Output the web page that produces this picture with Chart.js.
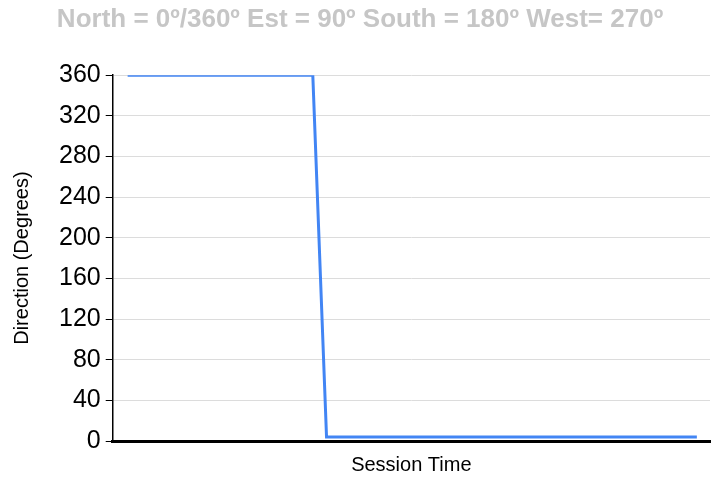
<!DOCTYPE html>
<html>
<head>
<meta charset="utf-8">
<script src="https://cdn.jsdelivr.net/npm/chart.js@4"></script>
<style>
	body { margin: 0; background: #fff; }
</style>
</head>
<body>
<canvas id="myChart" width="721" height="480"></canvas>
<script>
// session time position (share of the session, 0-100) and wind direction in degrees
let sessionTime = [2.5, 33.5, 35.8, 97.8];
let direction = [360, 360, 4, 4];
let yTicks = [0, 40, 80, 120, 160, 200, 240, 280, 320, 360];

let points = [];
sessionTime.forEach( (t, i) => {
	points.push({ x: t, y: direction[i] });
});

const ctx = document.getElementById('myChart');

new Chart(ctx, {
	type: 'line',
	data: {
		datasets: [{
			data: points,
			borderColor: 'rgb(66,133,244)',
			borderWidth: 3,
			pointRadius: 0,
			tension: 0,
			fill: false
		}]
	},
	options: {
		responsive: false,
		devicePixelRatio: 1,
		animation: false,
		layout: { padding: { left: 10, right: 11, top: 0, bottom: 3 } },
		plugins: {
			legend: { display: false },
			tooltip: { enabled: false },
			title: {
				display: true,
				text: 'North = 0º/360º Est = 90º South = 180º West= 270º',
				color: '#c6c6c6',
				font: { family: 'Liberation Sans', size: 26, weight: 'bold' },
				padding: { top: 4, bottom: 40 }
			}
		},
		scales: {
			x: {
				type: 'linear',
				min: 0,
				max: 100,
				ticks: { display: false },
				grid: { display: false },
				border: { display: true, color: '#000', width: 3 },
				title: {
					display: true,
					text: 'Session Time',
					color: '#000',
					font: { family: 'Liberation Sans', size: 20 },
					padding: { top: 4, bottom: 0 }
				}
			},
			y: {
				min: 0,
				max: 360,
				afterBuildTicks: (axis) => {
					axis.ticks = yTicks.map( (v) => ({ value: v }) );
				},
				ticks: {
					color: '#000',
					font: { family: 'Liberation Sans', size: 25 },
					padding: 5
				},
				grid: {
					color: '#dcdcdc',
					lineWidth: 1,
					drawTicks: true,
					tickLength: 7,
					tickColor: '#000'
				},
				border: { display: true, color: '#000', width: 1.5 },
				title: {
					display: true,
					text: 'Direction (Degrees)',
					color: '#000',
					font: { family: 'Liberation Sans', size: 20 },
					padding: { top: 0, bottom: 20 }
				}
			}
		}
	}
});
</script>
</body>
</html>
